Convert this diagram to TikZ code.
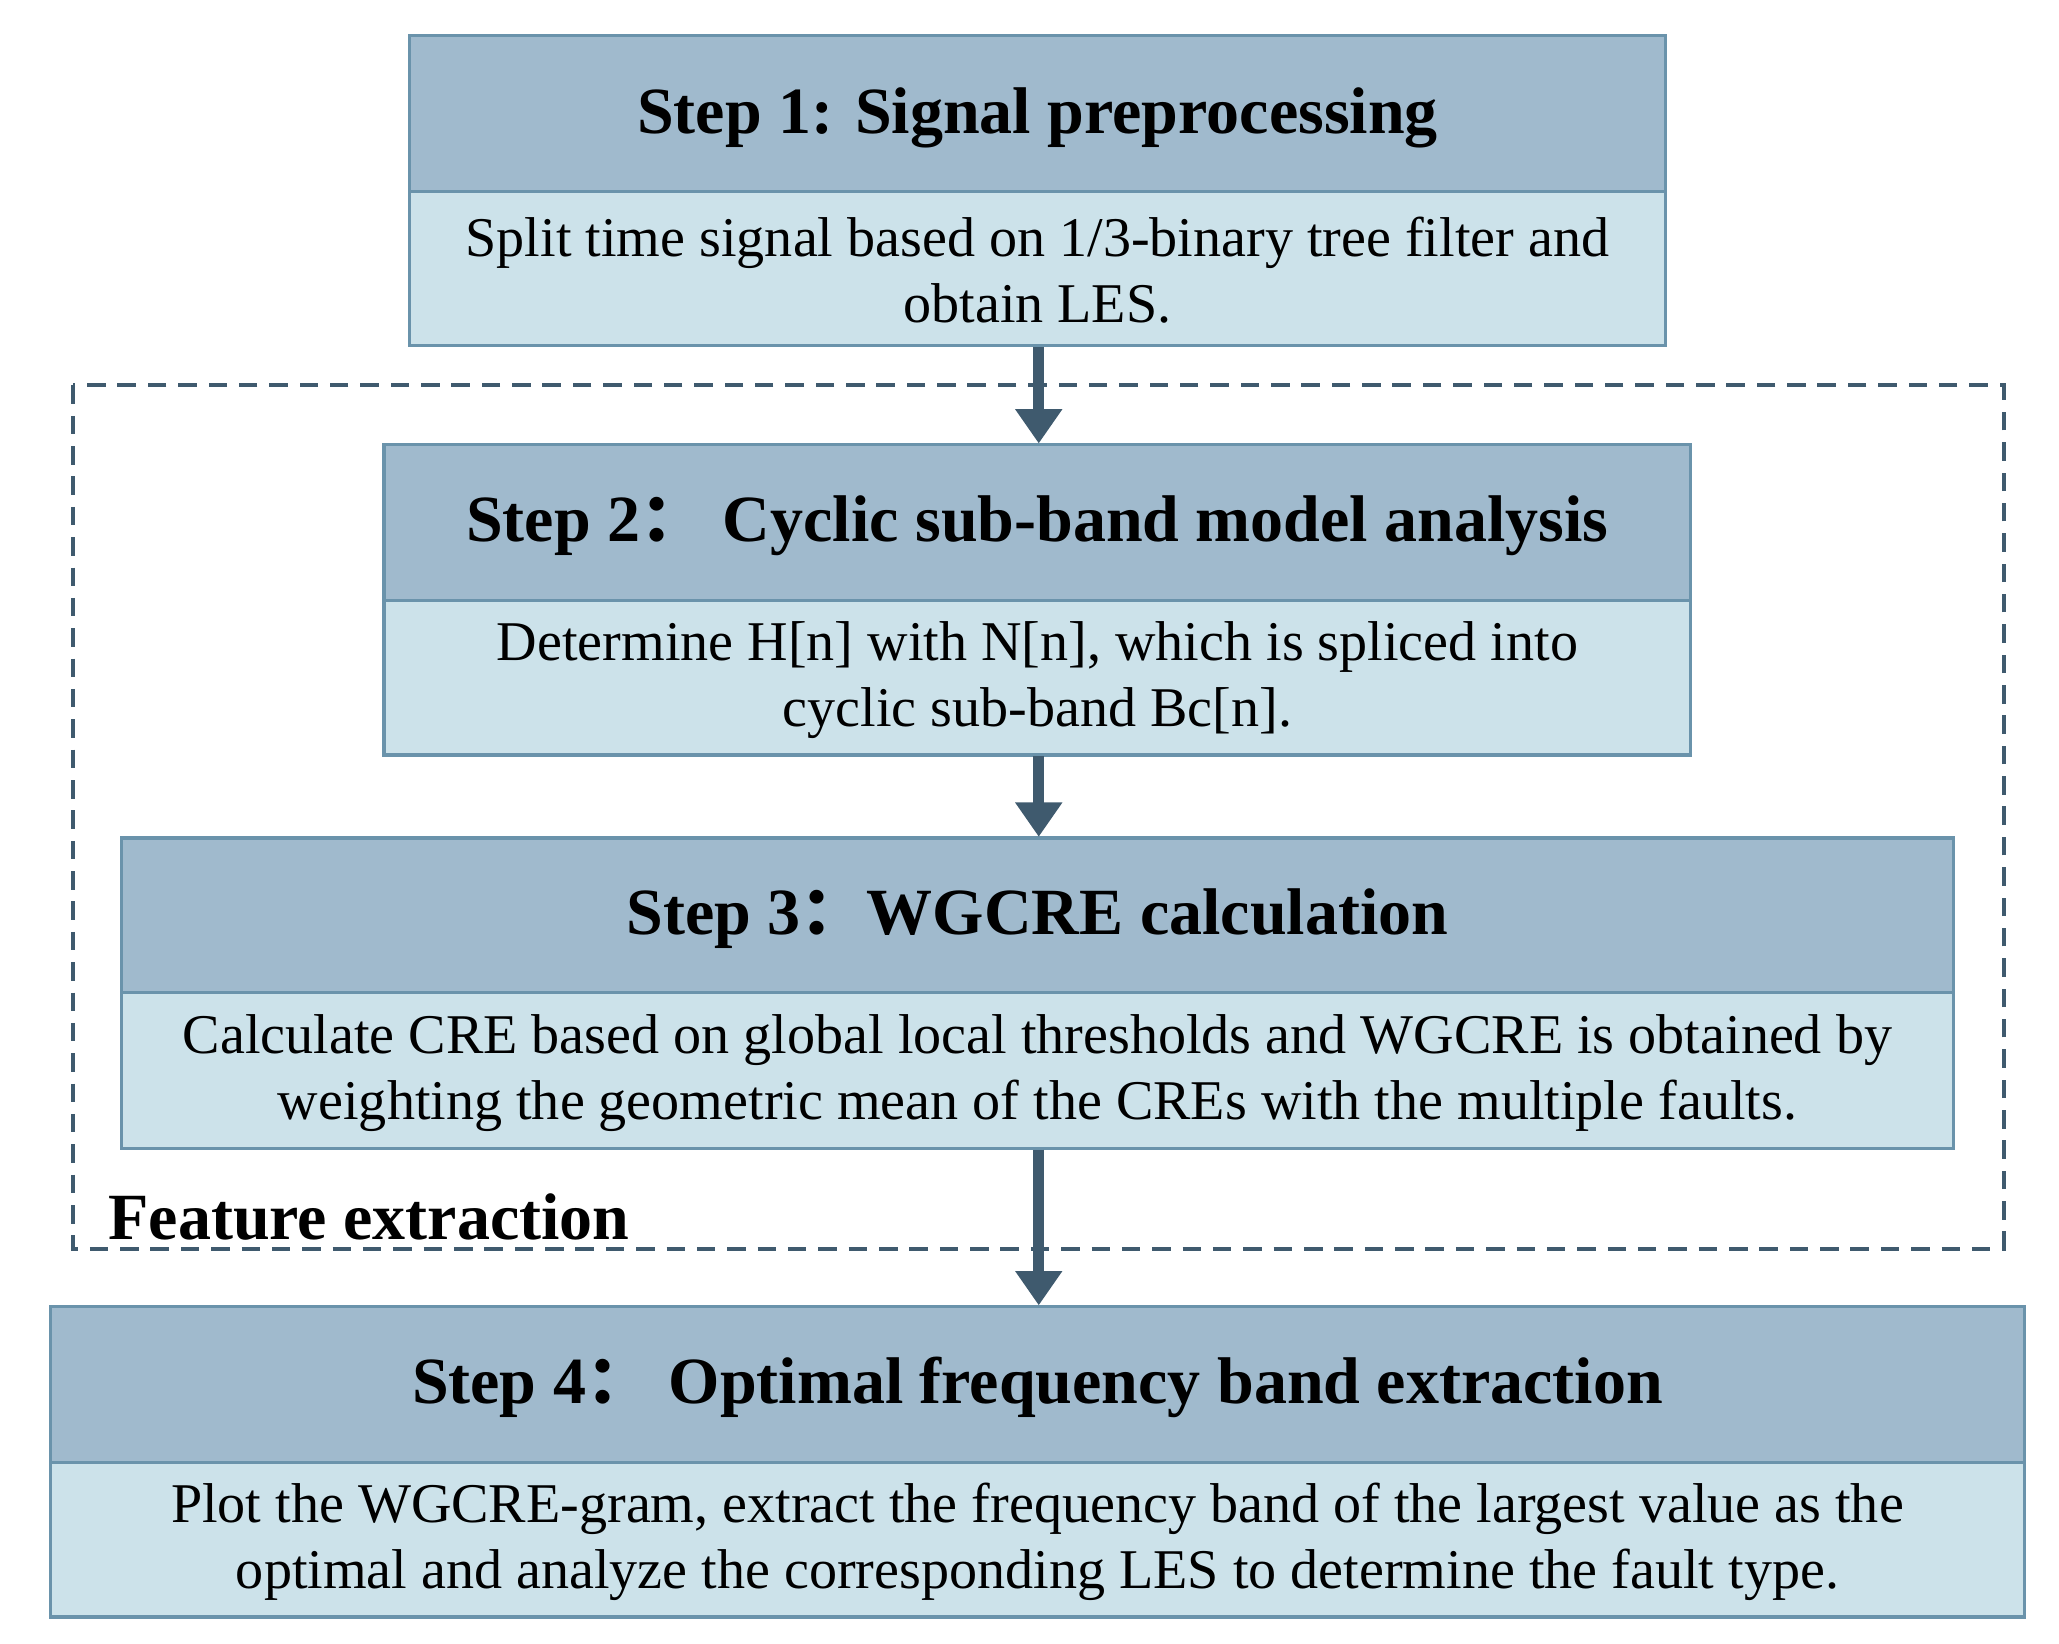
\documentclass[tikz,border=0pt]{standalone}
\usepackage{fontspec}
\setmainfont{Liberation Serif}
\newfontfamily\cjk{Noto Sans CJK SC}
\usetikzlibrary{arrows.meta}
\definecolor{hd}{HTML}{A0BACD}
\definecolor{bd}{HTML}{CCE2EA}
\definecolor{br}{HTML}{6A93AB}
\definecolor{ar}{HTML}{3F5A6E}
\begin{document}
\begin{tikzpicture}[x=1pt,y=-1pt,
 hdr/.style={draw=br,fill=hd,line width=2.5pt},
 bdy/.style={draw=br,fill=bd,line width=2.5pt},
 ttl/.style={font=\fontsize{50}{56}\selectfont\bfseries},
 txt/.style={font=\fontsize{42.5}{50}\selectfont,align=center},
 arr/.style={draw=ar,line width=8pt,-{Triangle[length=26pt,width=34pt]}}]
\useasboundingbox (0,0) rectangle (1560,1245.5);
\draw[ar,line width=3pt,dash pattern=on 14pt off 9pt] (55,292) rectangle (1518,946);
\node[anchor=south west,font=\fontsize{50}{56}\selectfont\bfseries,inner sep=0pt] (fe) at (82,940) {Feature extraction};
% boxes
\path[hdr] (310,27) rectangle (1262,145); \path[bdy] (310,145) rectangle (1262,262);
\node[ttl] (t1) at (786,89) {Step 1: Signal preprocessing};
\node[txt] (b1) at (786,205) {Split time signal based on 1/3-binary tree filter and\\obtain LES.};
\path[hdr] (291,337) rectangle (1281,455); \path[bdy] (291,455) rectangle (1281,572);
\node[ttl] (t2) at (786,398) {Step 2{\cjk ：} Cyclic sub-band model analysis};
\node[txt] (b2) at (786,515) {Determine H[n] with N[n], which is spliced into\\cyclic sub-band Bc[n].};
\path[hdr] (92,635) rectangle (1480,752); \path[bdy] (92,752) rectangle (1480,870);
\node[ttl] (t3) at (786,696) {Step 3{\cjk ：}WGCRE calculation};
\node[txt] (b3) at (786,813) {Calculate CRE based on global local thresholds and WGCRE is obtained by\\weighting the geometric mean of the CREs with the multiple faults.};
\path[hdr] (38,990) rectangle (1534,1108); \path[bdy] (38,1108) rectangle (1534,1225);
\node[ttl] (t4) at (786,1051) {Step 4{\cjk ：} Optimal frequency band extraction};
\node[txt] (b4) at (786,1168) {Plot the WGCRE-gram, extract the frequency band of the largest value as the\\optimal and analyze the corresponding LES to determine the fault type.};
\coordinate (a1) at (787,263); \coordinate (e1) at (787,336);
\coordinate (a2) at (787,573); \coordinate (e2) at (787,634);
\coordinate (a3) at (787,871); \coordinate (e3) at (787,989);
\draw[arr] (a1) -- (e1);
\draw[arr] (a2) -- (e2);
\draw[arr] (a3) -- (e3);
\end{tikzpicture}
\end{document}
